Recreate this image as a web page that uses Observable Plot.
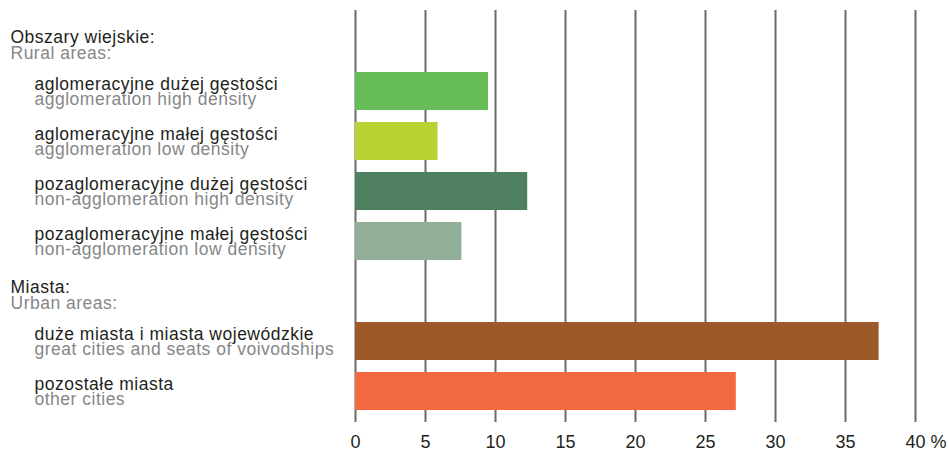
<!DOCTYPE html>
<html>
<head>
<meta charset="utf-8">
<script src="https://cdn.jsdelivr.net/npm/d3@7"></script>
<script src="https://cdn.jsdelivr.net/npm/@observablehq/plot@0.6"></script>
<style>
  html, body { margin: 0; padding: 0; background: #fff; }
  #chart svg { display: block; font-family: "Liberation Sans", Arial, sans-serif; }
  #chart svg g[aria-label="text"] text { letter-spacing: 0.5px; }
</style>
</head>
<body>
<div id="chart"></div>
<script>
// ---- data ----
const groupsPl = ["Obszary wiejskie:", "Miasta:"];
const groupsEn = ["Rural areas:", "Urban areas:"];
const categoriesPl = [
  "aglomeracyjne dużej gęstości",
  "aglomeracyjne małej gęstości",
  "pozaglomeracyjne dużej gęstości",
  "pozaglomeracyjne małej gęstości",
  "duże miasta i miasta wojewódzkie",
  "pozostałe miasta"
];
const categoriesEn = [
  "agglomeration high density",
  "agglomeration low density",
  "non-agglomeration high density",
  "non-agglomeration low density",
  "great cities and seats of voivodships",
  "other cities"
];
const categoryGroup = [0, 0, 0, 0, 1, 1];
const values = [9.5, 5.9, 12.3, 7.6, 37.4, 27.2];
const xTicks = [0, 5, 10, 15, 20, 25, 30, 35, 40];
const palette = ["#66bd57", "#b8d334", "#4f8160", "#91ae97", "#9b5a28", "#f26841"];

// ---- build rows ----
const headerRows = groupsPl.map((pl, i) => ({pl, en: groupsEn[i]}));
const catRows = categoriesPl.map((pl, i) => ({pl, en: categoriesEn[i], value: values[i], group: categoryGroup[i]}));
const rowOrder = [];
headerRows.forEach((h, g) => {
  rowOrder.push(h.pl);
  catRows.filter(c => c.group === g).forEach(c => rowOrder.push(c.pl));
});

const W = 949, H = 451;
const fontFamily = '"Liberation Sans", Arial, sans-serif';
const black = "#231f20", gray = "#858789";
const fs = 17.5;

const chart = Plot.plot({
  width: W,
  height: H,
  marginLeft: 355,
  marginRight: 34,
  marginTop: 10,
  marginBottom: 29,
  style: {fontFamily, background: "#fff"},
  x: {domain: [xTicks[0], xTicks[xTicks.length - 1]], ticks: xTicks},
  y: {domain: rowOrder, paddingInner: 0.24, paddingOuter: 0.24, axis: null},
  color: {domain: categoriesPl, range: palette},
  marks: [
    Plot.ruleX(xTicks, {stroke: "#6b6b6b", strokeWidth: 2}),
    Plot.barX(catRows, {x: "value", y: "pl", fill: "pl"}),
    // header labels
    Plot.text(headerRows, {y: "pl", text: "pl", frameAnchor: "left", textAnchor: "start", dx: -345, dy: -4, fontSize: fs, fill: black}),
    Plot.text(headerRows, {y: "pl", text: "en", frameAnchor: "left", textAnchor: "start", dx: -345, dy: 11.5, fontSize: fs, fill: gray}),
    // category labels
    Plot.text(catRows, {y: "pl", text: "pl", frameAnchor: "left", textAnchor: "start", dx: -321, dy: -7, fontSize: fs, fill: black}),
    Plot.text(catRows, {y: "pl", text: "en", frameAnchor: "left", textAnchor: "start", dx: -321, dy: 7.5, fontSize: fs, fill: gray}),
    Plot.axisX({ticks: xTicks, tickSize: 0, tickPadding: 13, fontSize: 18, label: null, fill: black, tickFormat: d => String(d)}),
    Plot.text([xTicks[xTicks.length - 1]], {x: d => d, text: () => "%", frameAnchor: "bottom", lineAnchor: "top", textAnchor: "start", dx: 15, dy: 13, fontSize: 18, fill: black})
  ]
});
document.getElementById("chart").appendChild(chart);
</script>
</body>
</html>
